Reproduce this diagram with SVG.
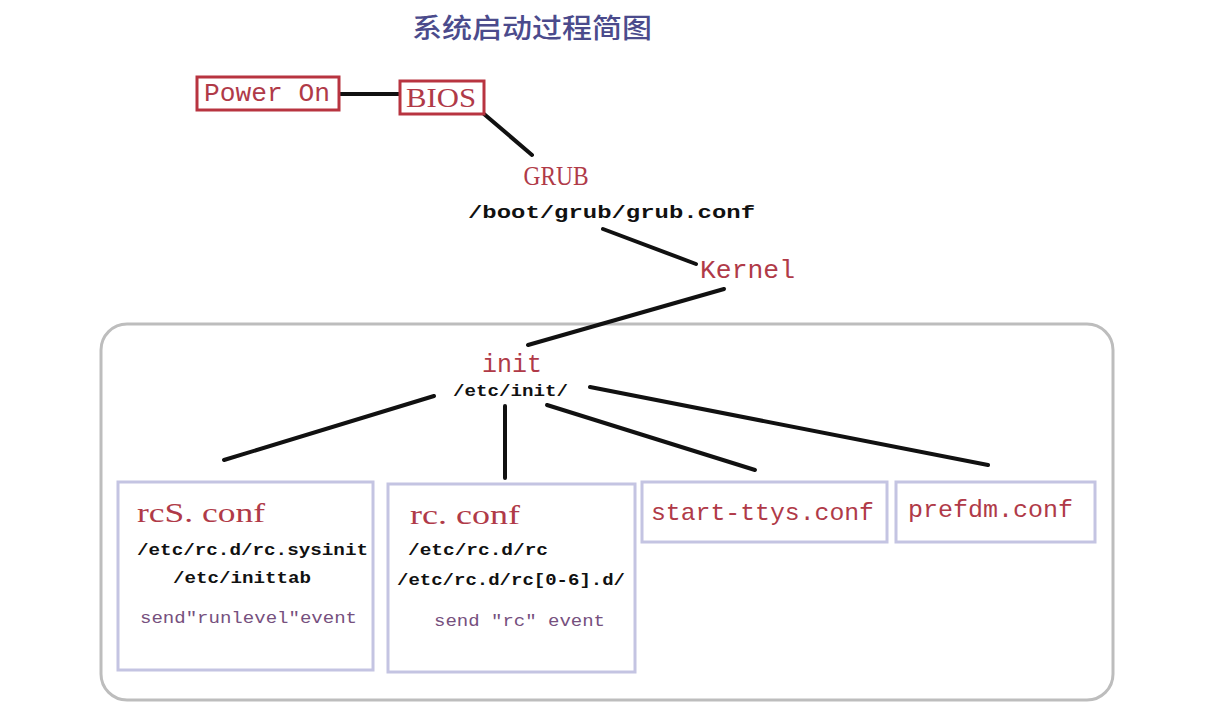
<svg xmlns="http://www.w3.org/2000/svg" width="1230" height="721" viewBox="0 0 1230 721">
<style>
.red{fill:#b03a48;font-family:"Liberation Mono",monospace;font-size:24px}
.rserif{fill:#b03a48;font-family:"Liberation Serif",serif;font-size:27px}
.path{fill:#111;font-family:"Liberation Mono",monospace;font-weight:bold;font-size:17px}
.ev{fill:#76507e;font-family:"Liberation Mono",monospace;font-size:16px}
.rbox{fill:#fff;stroke:#b83440;stroke-width:3}
.lbox{fill:#fff;stroke:#c4c4e2;stroke-width:3}
.conn line{stroke:#111;stroke-width:4;stroke-linecap:round}
</style>
<rect width="1230" height="721" fill="#fff"/>
<text x="532" y="38" text-anchor="middle" font-family="Noto Sans CJK SC,sans-serif" font-size="27" font-weight="500" fill="#4b4b8c" textLength="240" lengthAdjust="spacingAndGlyphs">系统启动过程简图</text>
<g id="container"><rect x="101" y="324" width="1012" height="376" rx="26" fill="none" stroke="#bdbdbd" stroke-width="3"/></g>
<g class="conn" id="connectors">
<line x1="339" y1="94" x2="400" y2="94"/>
<line x1="484" y1="114" x2="532" y2="155"/>
<line x1="603" y1="229" x2="696" y2="264"/>
<line x1="724" y1="289" x2="528" y2="345"/>
<line x1="434" y1="396" x2="224" y2="460"/>
<line x1="505" y1="406" x2="505" y2="478"/>
<line x1="547" y1="405" x2="755" y2="470"/>
<line x1="590" y1="387" x2="988" y2="465"/>
</g>
<g id="power-on"><rect class="rbox" x="197" y="77" width="142" height="33"/><text class="red" x="204" y="101" textLength="126" lengthAdjust="spacingAndGlyphs" style="font-size:25px">Power On</text></g>
<g id="bios"><rect class="rbox" x="400" y="81" width="84" height="33"/><text class="rserif" x="406" y="107" textLength="70" lengthAdjust="spacingAndGlyphs">BIOS</text></g>
<g id="grub"><text class="rserif" x="556" y="185" text-anchor="middle" textLength="65" lengthAdjust="spacingAndGlyphs" style="font-size:28px">GRUB</text><text class="path" x="468" y="218" textLength="287" lengthAdjust="spacingAndGlyphs" style="font-size:19px">/boot/grub/grub.conf</text></g>
<g id="kernel"><text class="red" x="700" y="278" textLength="95" lengthAdjust="spacingAndGlyphs" style="font-size:26px">Kernel</text></g>
<g id="init"><text class="red" x="482" y="372" textLength="60" lengthAdjust="spacingAndGlyphs" style="font-size:26px">init</text><text class="path" x="453" y="396" textLength="115" lengthAdjust="spacingAndGlyphs">/etc/init/</text></g>
<g id="rcs-conf"><rect class="lbox" x="118" y="482" width="255" height="188"/><text class="rserif" x="137" y="522" textLength="128" lengthAdjust="spacingAndGlyphs">rcS. conf</text><text class="path" x="137" y="555" textLength="231" lengthAdjust="spacingAndGlyphs">/etc/rc.d/rc.sysinit</text><text class="path" x="173" y="583" textLength="138" lengthAdjust="spacingAndGlyphs">/etc/inittab</text><text class="ev" x="140" y="623" textLength="217" lengthAdjust="spacingAndGlyphs">send"runlevel"event</text></g>
<g id="rc-conf"><rect class="lbox" x="388" y="484" width="247" height="188"/><text class="rserif" x="410" y="524" textLength="110" lengthAdjust="spacingAndGlyphs">rc. conf</text><text class="path" x="408" y="555" textLength="140" lengthAdjust="spacingAndGlyphs">/etc/rc.d/rc</text><text class="path" x="397" y="585" textLength="228" lengthAdjust="spacingAndGlyphs">/etc/rc.d/rc[0-6].d/</text><text class="ev" x="434" y="626" textLength="171" lengthAdjust="spacingAndGlyphs">send "rc" event</text></g>
<g id="start-ttys"><rect class="lbox" x="642" y="482" width="245" height="60"/><text class="red" x="651" y="520" textLength="223" lengthAdjust="spacingAndGlyphs">start-ttys.conf</text></g>
<g id="prefdm"><rect class="lbox" x="896" y="482" width="199" height="60"/><text class="red" x="908" y="517" textLength="165" lengthAdjust="spacingAndGlyphs">prefdm.conf</text></g>
</svg>
